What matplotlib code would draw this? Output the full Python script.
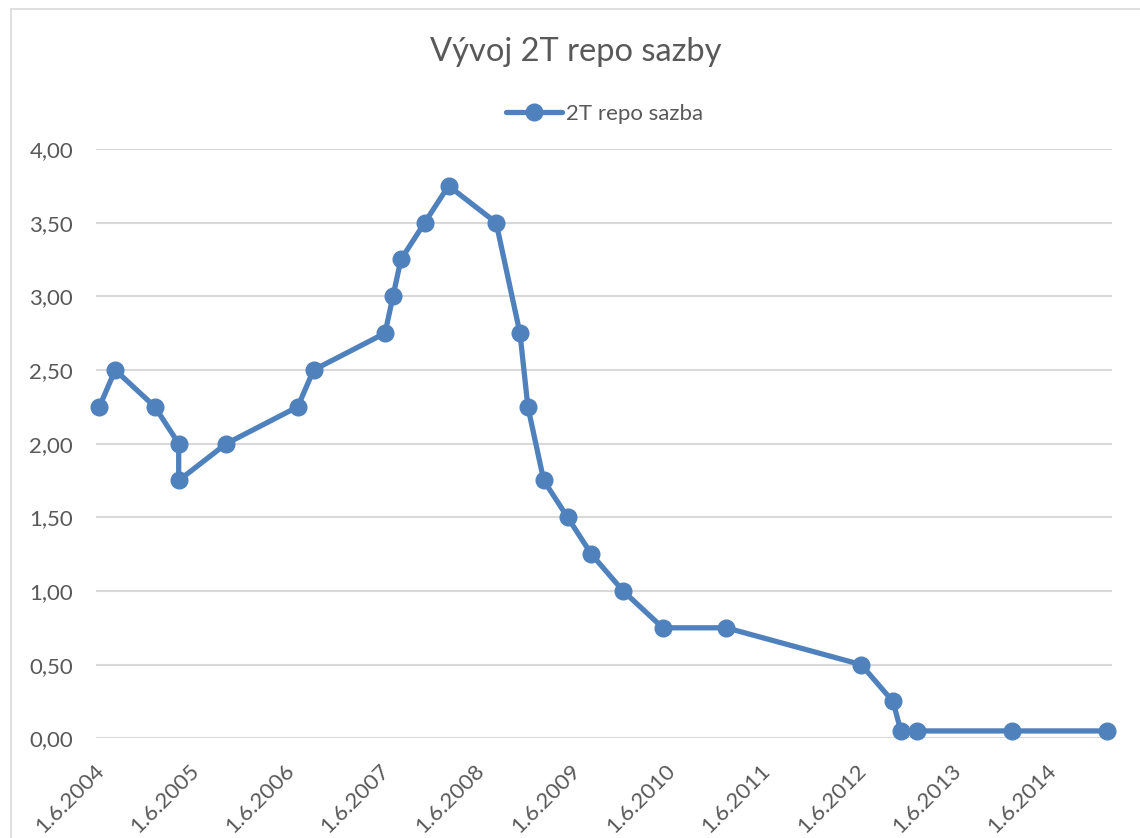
import matplotlib
matplotlib.use("Agg")
import matplotlib.pyplot as plt
from matplotlib.patches import Rectangle
from matplotlib.transforms import ScaledTranslation

plt.rcParams['font.family'] = ['Lato', 'DejaVu Sans']

# ---- data ----
dates = ["2004-06", "2004-08", "2005-01", "2005-04", "2005-04", "2005-10",
         "2006-07", "2006-09", "2007-06", "2007-07", "2007-08", "2007-11",
         "2008-02", "2008-08", "2008-11", "2008-12", "2009-02", "2009-05",
         "2009-08", "2009-12", "2010-05", "2011-01", "2012-06", "2012-10",
         "2012-11", "2013-01", "2014-01", "2015-01"]
rates = [2.25, 2.50, 2.25, 2.00, 1.75, 2.00,
         2.25, 2.50, 2.75, 3.00, 3.25, 3.50,
         3.75, 3.50, 2.75, 2.25, 1.75, 1.50,
         1.25, 1.00, 0.75, 0.75, 0.50, 0.25,
         0.05, 0.05, 0.05, 0.05]
xtick_labels = ["1.6.2004", "1.6.2005", "1.6.2006", "1.6.2007", "1.6.2008",
                "1.6.2009", "1.6.2010", "1.6.2011", "1.6.2012", "1.6.2013",
                "1.6.2014"]
ytick_values = [0.0, 0.5, 1.0, 1.5, 2.0, 2.5, 3.0, 3.5, 4.0]
title = "Vývoj 2T repo sazby"
series_name = "2T repo sazba"

# month index from the axis start (1.6.2004), Excel date axis with month base unit
def month_index(d):
    y, m = d.split("-")
    return (int(y) - 2004) * 12 + int(m) - 6

xs = [month_index(d) for d in dates]
xticks = [12 * i for i in range(len(xtick_labels))]

W, H = 1140, 838
fig = plt.figure(figsize=(W / 100, H / 100), dpi=100)

TXT = "#595959"
GRID = "#D9D9D9"
BLUE = "#4F81BD"
FS = 16

# chart area border
fig.patches.append(Rectangle((11 / W, -0.1), 1.2, 1 - 9 / H + 0.1,
                             transform=fig.transFigure, fill=False,
                             edgecolor=GRID, linewidth=1.2))

left, right = 96, 1112
top, bottom = 149, 738.3
ax = fig.add_axes([left / W, 1 - bottom / H, (right - left) / W, (bottom - top) / H])

ax.plot(xs, rates, color=BLUE, linewidth=3.8, marker='o', markersize=12,
        markerfacecolor=BLUE, markeredgecolor=BLUE, clip_on=False, zorder=3,
        label=series_name, solid_capstyle='round', solid_joinstyle='round')

ax.set_xlim(-0.42, 127.6)
ax.set_ylim(0, 4.0)
ax.set_yticks(ytick_values)
ax.set_yticklabels([f"{v:.2f}".replace(".", ",") for v in ytick_values])
ax.yaxis.grid(True, color=GRID, linewidth=1.5)
ax.set_axisbelow(True)
for s in ax.spines.values():
    s.set_visible(False)
ax.tick_params(axis='both', length=0, labelsize=FS, labelcolor=TXT)
ax.tick_params(axis='y', pad=16.5)

ax.set_xticks(xticks)
ax.set_xticklabels(xtick_labels, rotation=45, ha='right', va='center',
                   rotation_mode='anchor')
ax.tick_params(axis='x', pad=0)
off = ScaledTranslation(1 / 72, -21 / 72, fig.dpi_scale_trans)
for lab in ax.get_xticklabels():
    lab.set_transform(lab.get_transform() + off)

fig.text(576 / W, 1 - 52 / H, title, ha='center', va='center',
         fontsize=23.5, color=TXT)

leg = ax.legend(loc='center', bbox_to_anchor=(605 / W, 1 - 114 / H),
                bbox_transform=fig.transFigure, frameon=False,
                fontsize=FS, handlelength=2.5, handletextpad=0.2,
                labelcolor=TXT)

fig.savefig("out.png", dpi=100)
